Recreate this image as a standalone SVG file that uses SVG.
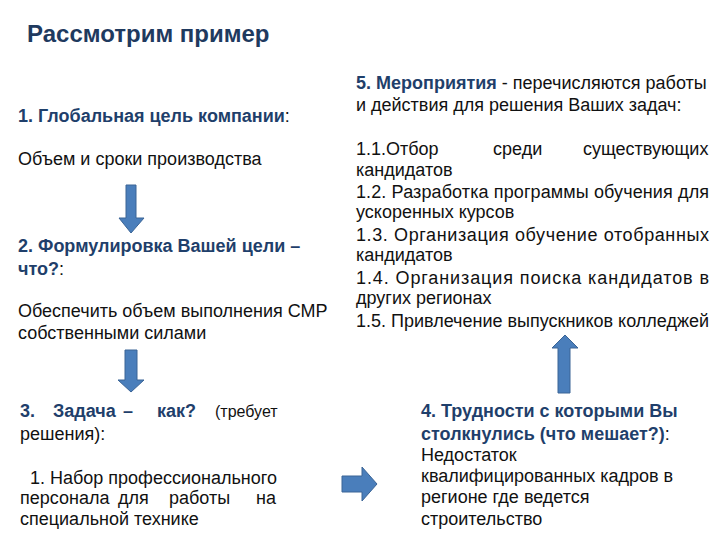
<svg xmlns="http://www.w3.org/2000/svg" width="720" height="540" viewBox="0 0 720 540">
<style>
text{font-family:"Liberation Sans",Arial,sans-serif;font-size:18px;fill:#111}
.t{font-size:24px;font-weight:bold;fill:#1f3a5f}
.h{font-weight:bold;fill:#1f3f6b}
.s{font-size:16px}
.arrow{fill:#4a7ebb;stroke:#3a6496;stroke-width:1}
</style>
<rect width="720" height="540" fill="#fff"/>
<g id="title"><text class="t" x="27" y="42">Рассмотрим пример</text></g>
<g id="node1">
<text x="18" y="122"><tspan class="h">1. Глобальная цель компании</tspan>:</text>
<text x="18" y="165">Объем и сроки производства</text>
</g>
<g id="node2">
<text x="18" y="252" class="h">2. Формулировка Вашей цели –</text>
<text x="18" y="275"><tspan class="h">что?</tspan>:</text>
<text x="18" y="317">Обеспечить объем выполнения СМР</text>
<text x="18" y="339">собственными силами</text>
</g>
<g id="node3">
<text y="417"><tspan class="h" x="20">3.</tspan><tspan class="h" x="53">Задача</tspan><tspan class="h" x="123">–</tspan><tspan class="h" x="157">как?</tspan><tspan class="s" x="215">(требует</tspan></text>
<text x="20" y="440">решения):</text>
<text x="30" y="484">1. Набор профессионального</text>
<text y="504"><tspan x="20">персонала</tspan><tspan x="118">для</tspan><tspan x="169">работы</tspan><tspan x="256">на</tspan></text>
<text x="20" y="525">специальной технике</text>
</g>
<g id="node5">
<text x="356" y="89"><tspan class="h">5. Мероприятия</tspan> - перечисляются работы</text>
<text x="356" y="111">и действия для решения Ваших задач:</text>
<text y="155"><tspan x="356">1.1.Отбор</tspan><tspan x="493">среди</tspan><tspan x="583">существующих</tspan></text>
<text x="356" y="176">кандидатов</text>
<text x="356" y="198" textLength="353" lengthAdjust="spacing">1.2. Разработка программы обучения для</text>
<text x="356" y="218">ускоренных курсов</text>
<text x="356" y="241" textLength="353" lengthAdjust="spacing">1.3. Организация обучение отобранных</text>
<text x="356" y="261">кандидатов</text>
<text x="356" y="284" textLength="353" lengthAdjust="spacing">1.4. Организация поиска кандидатов в</text>
<text x="356" y="304">других регионах</text>
<text x="356" y="327" textLength="353" lengthAdjust="spacing">1.5. Привлечение выпускников колледжей</text>
</g>
<g id="node4">
<text x="421" y="417" class="h">4. Трудности с которыми Вы</text>
<text x="421" y="440"><tspan class="h">столкнулись</tspan> <tspan class="h">(что мешает?)</tspan>:</text>
<text x="421" y="461">Недостаток</text>
<text x="421" y="482">квалифицированных кадров в</text>
<text x="421" y="503">регионе где ведется</text>
<text x="421" y="525">строительство</text>
</g>
<g id="connectors">
<path class="arrow" d="M126,185 H136 V218 H144 L131,233 L119,218 H126 Z"/>
<path class="arrow" d="M125,350 H137 V380 H144 L131,392 L118,380 H125 Z"/>
<path class="arrow" d="M342,476 H362 V467 L377,484 L362,501 V492 H342 Z"/>
<path class="arrow" d="M558,393 V348 H552 L565,335 L578,348 H570 V393 Z"/>
</g>
</svg>
